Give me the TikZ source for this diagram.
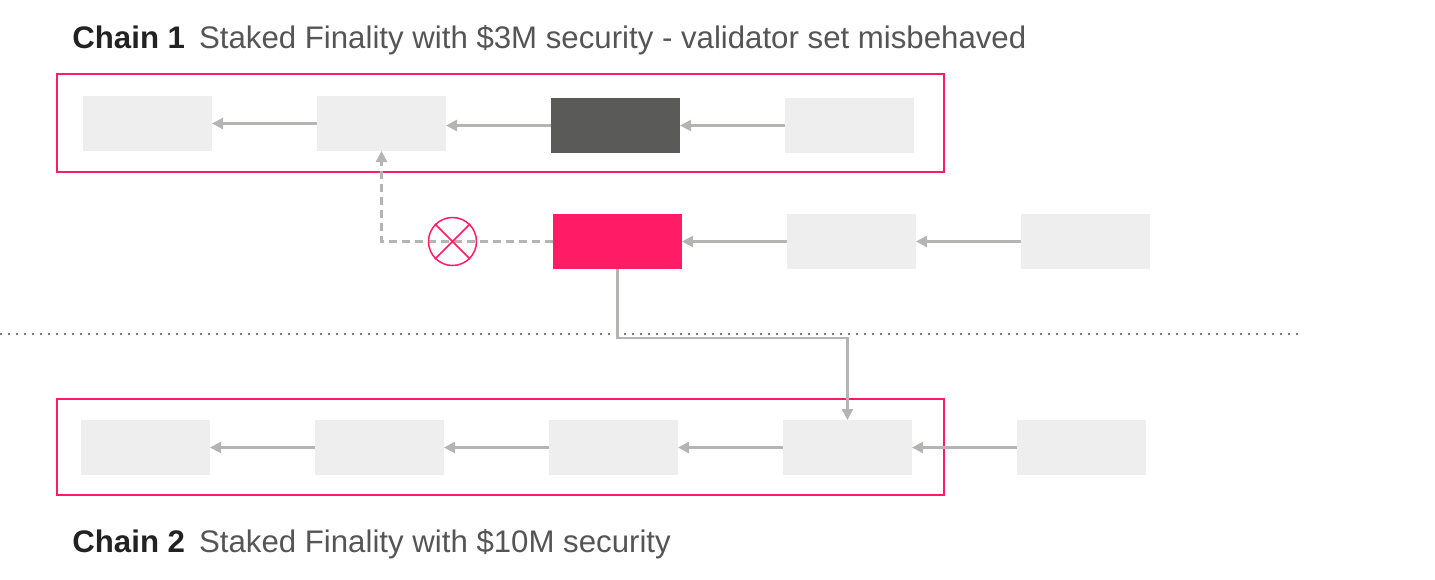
\documentclass[tikz,border=0pt]{standalone}
\usepackage{fontspec}
\setmainfont{Liberation Sans}
\usepackage{tikz}
\usetikzlibrary{arrows.meta}
\usepackage{xcolor}

\definecolor{blkgray}{HTML}{EEEEEE}
\definecolor{blkdark}{HTML}{5A5A59}
\definecolor{hotpink}{HTML}{FF1B66}
\definecolor{arrgray}{HTML}{B4B4B2}
\definecolor{dotgray}{HTML}{777777}
\definecolor{titlegray}{HTML}{555555}

\tikzset{
  blk/.style = {fill=blkgray, minimum width=64.5pt, minimum height=27.5pt, inner sep=0pt, outer sep=0pt},
  darkblk/.style = {blk, fill=blkdark},
  pinkblk/.style = {blk, fill=hotpink},
  frame/.style = {draw=hotpink, line width=1pt},
  arr/.style = {draw=arrgray, line width=1.2pt, -{Triangle[length=5.5pt,width=5.5pt]}},
  title/.style = {anchor=base west, inner sep=0pt, font=\fontsize{15.6}{18}\selectfont}
}

\begin{document}
\begin{tikzpicture}[x=0.5pt, y=-0.5pt]
\useasboundingbox (0,0) rectangle (1435,579);

% titles
\node[title] (t1) at (72,48) {\textbf{\color[HTML]{222222}Chain 1}\hspace{0.45em}\color{titlegray}Staked Finality with \$3M security - validator set misbehaved};
\node[title] (t2) at (72,552) {\textbf{\color[HTML]{222222}Chain 2}\hspace{0.45em}\color{titlegray}Staked Finality with \$10M security};

% frames
\draw[frame] (57,74) rectangle (944,172);
\draw[frame] (57,399) rectangle (944,495);

% chain 1
\node[blk] (a1) at (147.5,123.5) {};
\node[blk] (a2) at (381.5,123.5) {};
\node[darkblk] (a3) at (615.5,125.5) {};
\node[blk] (a4) at (849.5,125.5) {};
\draw[arr] (a2.west) -- (a1.east);
\draw[arr] (a3.west) -- (a3.west -| a2.east);
\draw[arr] (a4.west) -- (a3.east);

% misbehaving fork
\node[pinkblk] (m1) at (617.5,241.5) {};
\node[blk] (m2) at (851.5,241.5) {};
\node[blk] (m3) at (1085.5,241.5) {};
\draw[arr] (m2.west) -- (m1.east);
\draw[arr] (m3.west) -- (m2.east);
\draw[arr, dashed, dash pattern=on 4pt off 2.5pt] (m1.west) -| (a2.south);
\node[draw=hotpink, circle, line width=0.75pt, minimum size=24pt, inner sep=0pt] (no) at (452.5,241.5) {};
\draw[hotpink, line width=0.75pt] (no.north west) -- (no.south east);
\draw[hotpink, line width=0.75pt] (no.north east) -- (no.south west);

% divider
\coordinate (d0) at (0,334);
\coordinate (d1) at (1300,334);
\draw[dotgray, line width=1.2pt, dash pattern=on 1.2pt off 2.8pt] (d0) -- (d1);

% chain 2
\node[blk] (b1) at (145.5,447.5) {};
\node[blk] (b2) at (379.5,447.5) {};
\node[blk] (b3) at (613.5,447.5) {};
\node[blk] (b4) at (847.5,447.5) {};
\node[blk] (b5) at (1081.5,447.5) {};
\draw[arr] (b2.west) -- (b1.east);
\draw[arr] (b3.west) -- (b2.east);
\draw[arr] (b4.west) -- (b3.east);
\draw[arr] (b5.west) -- (b4.east);

% relay of the misbehaviour into chain 2
\coordinate (turn) at (617.5,338);
\draw[arr] (m1.south) -- (turn) -| (b4.north);
\end{tikzpicture}
\end{document}
